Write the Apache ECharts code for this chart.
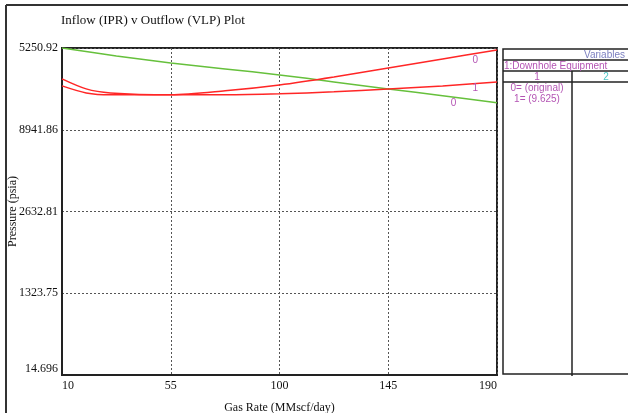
<!DOCTYPE html>
<html>
<head>
<meta charset="utf-8">
<script src="https://cdn.jsdelivr.net/npm/echarts@6/dist/echarts.min.js"></script>
<style>html,body{margin:0;padding:0;background:#fff;}#c{width:628px;height:413px;}</style>
</head>
<body>
<div id="c"></div>
<script>
// ---- data ----
var yTickLabels = ['14.696', '1323.75', '2632.81', '8941.86', '5250.92'];
var xTickLabels = ['10', '55', '100', '145', '190'];
var yMin = 14.696, yMax = 5250.92;
var xMin = 10, xMax = 190;

var iprRates = [10, 32.5, 55, 77.5, 100, 122.5, 145, 167.5, 190];
var iprPressure = [5250.9, 5123, 5011, 4916, 4820, 4708, 4596, 4485, 4373];

var vlp0Rates = [10, 20, 30, 55, 77.5, 100, 122.5, 145, 167.5, 190];
var vlp0Pressure = [4644, 4532, 4501, 4501, 4565, 4660, 4788, 4932, 5075, 5219];

var vlp1Rates = [10, 20, 30, 55, 77.5, 100, 122.5, 145, 167.5, 190];
var vlp1Pressure = [4756, 4596, 4532, 4501, 4501, 4517, 4549, 4596, 4644, 4708];

var curveLabels = [
  {text: '0', rate: 181, p: 5059},
  {text: '1', rate: 181, p: 4612},
  {text: '0', rate: 172, p: 4373}
];

var tableHeader = 'Variables';
var tableGroup = '1:Downhole Equipment';
var tableCols = ['1', '2'];
var tableEntries = ['0= (original)', '1= (9.625)'];

function pairs(xs, ys) { return xs.map(function (x, i) { return [x, ys[i]]; }); }

var yInterval = (yMax - yMin) / 4;
var xInterval = (xMax - xMin) / 4;

var chart = echarts.init(document.getElementById('c'), null, {renderer: 'canvas'});
var serif = 'Liberation Serif';
var sans = 'Liberation Sans';
var labelColor = '#b455b4';

var option = {
  backgroundColor: '#fff',
  animation: false,
  title: {
    text: 'Inflow (IPR) v Outflow (VLP) Plot',
    left: 56, top: 9,
    textStyle: {fontFamily: serif, fontSize: 13, fontWeight: 'normal', color: '#111'}
  },
  grid: {left: 62, top: 48, right: 131, bottom: 38, show: true, borderColor: '#222', borderWidth: 2,
    backgroundColor: 'transparent', containLabel: false, outerBoundsMode: 'none'},
  xAxis: {
    type: 'value', min: xMin, max: xMax, interval: xInterval,
    name: 'Gas Rate (MMscf/day)', nameLocation: 'middle', nameGap: 27, nameMoveOverlap: false,
    nameTextStyle: {fontFamily: serif, fontSize: 12, color: '#111'},
    axisLine: {show: true, lineStyle: {color: '#222', width: 2}},
    axisTick: {show: false},
    axisLabel: {
      fontFamily: serif, fontSize: 12, color: '#111', margin: 5,
      alignMinLabel: 'left', alignMaxLabel: 'right',
      formatter: function (v) { return xTickLabels[Math.round((v - xMin) / xInterval)]; }
    },
    splitLine: {show: true, lineStyle: {color: '#555', type: [2, 2], width: 1}}
  },
  yAxis: {
    type: 'value', min: yMin, max: yMax, interval: yInterval,
    name: 'Pressure (psia)', nameLocation: 'middle', nameGap: 43, nameRotate: 90, nameMoveOverlap: false,
    nameTextStyle: {fontFamily: serif, fontSize: 12, color: '#111'},
    axisLine: {show: true, lineStyle: {color: '#222', width: 2}},
    axisTick: {show: false},
    axisLabel: {
      fontFamily: serif, fontSize: 12, color: '#111', margin: 4,
      verticalAlignMinLabel: 'bottom',
      formatter: function (v) { return yTickLabels[Math.round((v - yMin) / yInterval)]; }
    },
    splitLine: {show: true, lineStyle: {color: '#555', type: [2, 2], width: 1}}
  },
  series: [
    {
      type: 'line', data: pairs(iprRates, iprPressure), symbol: 'none', smooth: 0.3,
      lineStyle: {color: '#66c03c', width: 1.5}, z: 3
    },
    {
      type: 'line', data: pairs(vlp0Rates, vlp0Pressure), symbol: 'none', smooth: 0.3,
      lineStyle: {color: '#ff2626', width: 1.5}, z: 4
    },
    {
      type: 'line', data: pairs(vlp1Rates, vlp1Pressure), symbol: 'none', smooth: 0.3,
      lineStyle: {color: '#ff2626', width: 1.5}, z: 4,
      markPoint: {
        symbol: 'circle', symbolSize: 0,
        label: {show: true, position: 'inside', color: labelColor, fontFamily: sans, fontSize: 10,
          formatter: function (p) { return p.name; }},
        data: curveLabels.map(function (c) { return {name: c.text, coord: [c.rate, c.p]}; })
      }
    }
  ],
  graphic: [
    // outer frame
    {type: 'line', shape: {x1: 6, y1: 5, x2: 628, y2: 5}, style: {stroke: '#333', lineWidth: 2}},
    {type: 'line', shape: {x1: 6, y1: 5, x2: 6, y2: 413}, style: {stroke: '#333', lineWidth: 2}},
    // table
    {type: 'rect', shape: {x: 503, y: 49, width: 140, height: 325}, style: {fill: 'none', stroke: '#222', lineWidth: 1.5}},
    {type: 'line', shape: {x1: 503, y1: 60, x2: 628, y2: 60}, style: {stroke: '#222', lineWidth: 1.5}},
    {type: 'line', shape: {x1: 503, y1: 71, x2: 628, y2: 71}, style: {stroke: '#222', lineWidth: 1.5}},
    {type: 'line', shape: {x1: 503, y1: 82, x2: 628, y2: 82}, style: {stroke: '#222', lineWidth: 1.5}},
    {type: 'line', shape: {x1: 572, y1: 71, x2: 572, y2: 376}, style: {stroke: '#222', lineWidth: 1.5}},
    {type: 'text', x: 625, y: 55, style: {text: tableHeader, align: 'right', verticalAlign: 'middle', fill: '#7b7fc0', font: '10px ' + sans}},
    {type: 'text', x: 504, y: 66, style: {text: tableGroup, align: 'left', verticalAlign: 'middle', fill: labelColor, font: '10px ' + sans}},
    {type: 'text', x: 537, y: 77, style: {text: tableCols[0], align: 'center', verticalAlign: 'middle', fill: labelColor, font: '10px ' + sans}},
    {type: 'text', x: 606, y: 77, style: {text: tableCols[1], align: 'center', verticalAlign: 'middle', fill: '#4dc8c8', font: '10px ' + sans}},
    {type: 'text', x: 537, y: 88, style: {text: tableEntries[0], align: 'center', verticalAlign: 'middle', fill: labelColor, font: '10px ' + sans}},
    {type: 'text', x: 537, y: 99, style: {text: tableEntries[1], align: 'center', verticalAlign: 'middle', fill: labelColor, font: '10px ' + sans}}
  ]
};
chart.setOption(option);
</script>
</body>
</html>
